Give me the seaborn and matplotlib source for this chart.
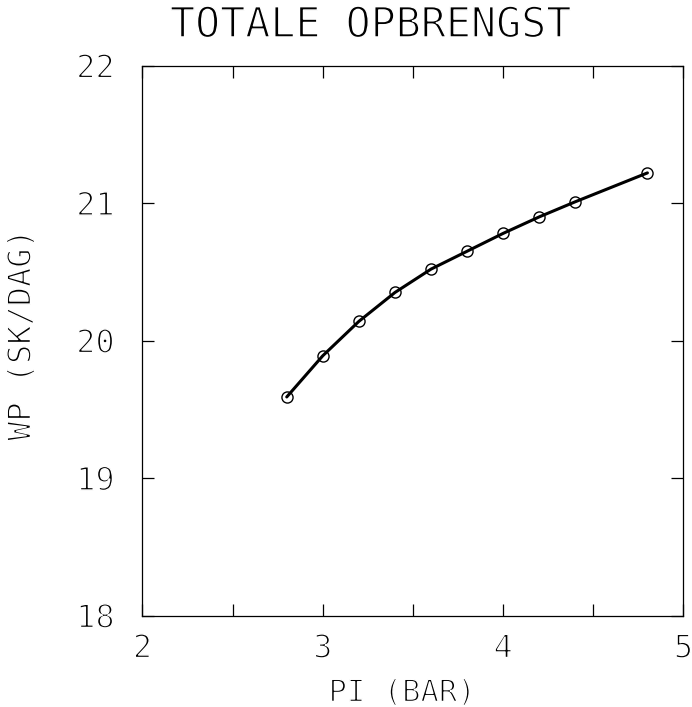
import matplotlib
matplotlib.use("Agg")
import matplotlib.pyplot as plt
import matplotlib.patheffects as pe
import seaborn as sns
import pandas as pd

# Inlet pressure (bar) and total yield per day
pi_bar = [2.8, 3.0, 3.2, 3.4, 3.6, 3.8, 4.0, 4.2, 4.4, 4.8]
wp_sk_dag = [19.59, 19.89, 20.14, 20.35, 20.52, 20.65, 20.78, 20.90, 21.01, 21.22]

x_ticks = [2, 3, 4, 5]
x_minor = [2.5, 3.5, 4.5]
y_ticks = [18, 19, 20, 21, 22]

title = "TOTALE OPBRENGST"
x_label = "PI (BAR)"
y_label = "WP (SK/DAG)"

sns.set_style("ticks")
plt.rcParams["font.family"] = ["DejaVu Sans Mono", "DejaVu Sans"]

# thin plotter-like strokes: paint glyph, then trim its edges with white
thin = [pe.Normal(), pe.Stroke(linewidth=1.1, foreground="white")]

df = pd.DataFrame({"PI": pi_bar, "WP": wp_sk_dag})

fig = plt.figure(figsize=(6.92, 7.07), dpi=100)
ax = fig.add_axes([0.2059, 0.1294, 0.7818, 0.7777])

sns.lineplot(data=df, x="PI", y="WP", ax=ax, color="black", linewidth=2.2,
             marker="o", markersize=8, markerfacecolor="none",
             markeredgecolor="black", markeredgewidth=1.0)

ax.set_xlim(2, 5)
ax.set_ylim(18, 22)
ax.set_xticks(x_ticks)
ax.set_xticks(x_minor, minor=True)
ax.set_yticks(y_ticks)
ax.set_xticklabels([str(t) for t in x_ticks])
ax.set_yticklabels([str(t) for t in y_ticks])

for side in ["top", "right", "bottom", "left"]:
    ax.spines[side].set_visible(True)
    ax.spines[side].set_linewidth(0.9)
    ax.spines[side].set_color("black")

ax.tick_params(axis="both", which="both", direction="in", length=8.5,
               width=0.9, color="black", labelcolor="black",
               top=True, right=True)
ax.tick_params(axis="x", which="major", labelsize=23, pad=13)
ax.tick_params(axis="y", which="major", labelsize=23, pad=20)
for lbl in ax.get_xticklabels() + ax.get_yticklabels():
    lbl.set_path_effects(thin)

ax.set_xlabel("")
ax.set_ylabel("")
fig.text(402 / 692, 1 - 693 / 707, x_label, ha="center", va="center",
         fontsize=22, color="black", path_effects=thin)
fig.text(22 / 692, 1 - 335 / 707, y_label, ha="center", va="center",
         rotation=90, fontsize=23, color="black", path_effects=thin)
fig.text(370 / 692, 1 - 25 / 707, title, ha="center", va="center",
         fontsize=30, color="black", path_effects=thin)

fig.savefig("out.png", dpi=100, facecolor="white")
